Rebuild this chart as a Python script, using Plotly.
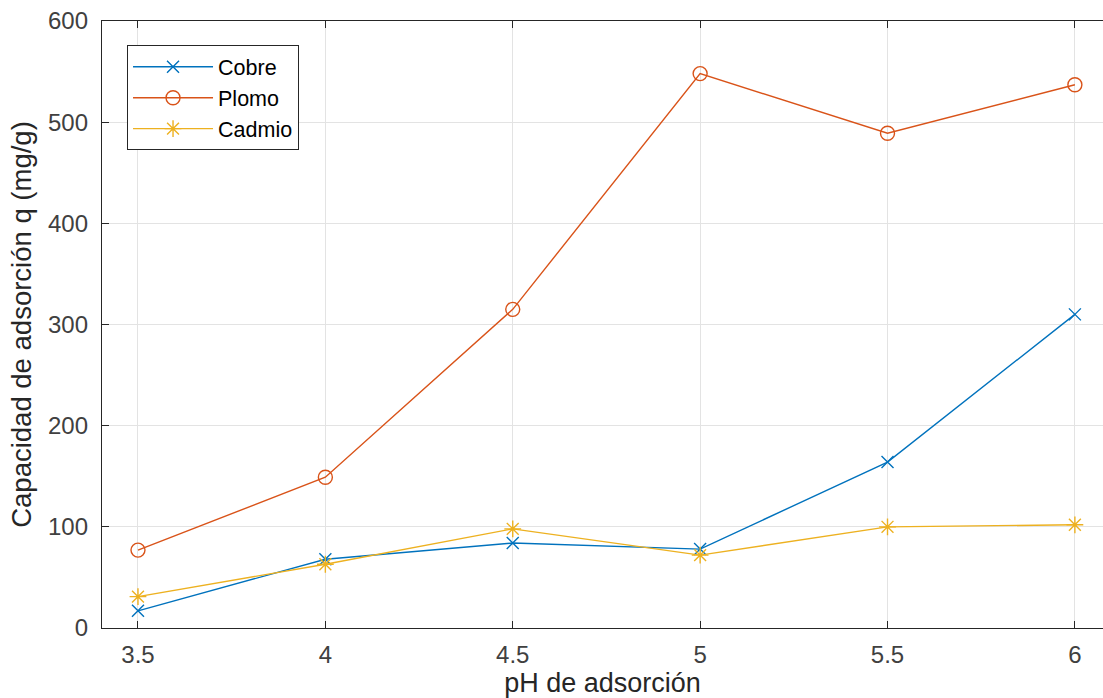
import plotly.graph_objects as go

ph = [3.5, 4, 4.5, 5, 5.5, 6]
cobre = [17, 68, 84, 78, 164, 310]
plomo = [77, 149, 315, 548, 489, 537]
cadmio = [31, 63, 98, 72, 100, 102]

x_ticks = [3.5, 4, 4.5, 5, 5.5, 6]
x_ticklabels = ["3.5", "4", "4.5", "5", "5.5", "6"]
y_ticks = [0, 100, 200, 300, 400, 500, 600]

fig = go.Figure()
series = [
    ("Cobre", cobre, "#0072BD", "x-thin-open", 12),
    ("Plomo", plomo, "#D95319", "circle-open", 14),
    ("Cadmio", cadmio, "#EDB120", "asterisk-open", 14),
]
for name, vals, col, sym, sz in series:
    fig.add_trace(go.Scatter(
        x=ph, y=vals, name=name, mode="lines+markers",
        line=dict(color=col, width=1.4),
        marker=dict(symbol=sym, size=sz, color=col, line=dict(color=col, width=1.4)),
    ))

font = "Liberation Sans, Arial, Helvetica, sans-serif"
fig.update_layout(
    width=1103, height=698,
    margin=dict(l=102, r=0, t=21, b=70),
    paper_bgcolor="white", plot_bgcolor="white",
    font=dict(family=font, size=24, color="#262626"),
    showlegend=True,
    legend=dict(
        x=0.025, y=0.96, xanchor="left", yanchor="top",
        bgcolor="white", bordercolor="#262626", borderwidth=1,
        font=dict(size=21.5, color="#000000"),
        itemwidth=80, tracegroupgap=0,
    ),
    xaxis=dict(
        range=[3.404, 6.075], tickvals=x_ticks, ticktext=x_ticklabels,
        showgrid=True, gridcolor="#e3e3e3", gridwidth=1,
        showline=True, linecolor="#262626", linewidth=1.4, mirror="ticks",
        ticks="inside", ticklen=7, tickcolor="#262626",
        zeroline=False, tickfont=dict(size=24, color="#404040"),
        ticklabelstandoff=5, automargin=False, ticklabeloverflow="allow",
        title=dict(text="pH de adsorción", font=dict(size=27, color="#262626"), standoff=6),
    ),
    yaxis=dict(
        range=[0, 600], tickvals=y_ticks,
        showgrid=True, gridcolor="#e3e3e3", gridwidth=1,
        showline=True, linecolor="#262626", linewidth=1.4, mirror=False,
        ticks="inside", ticklen=7, tickcolor="#262626",
        zeroline=False, tickfont=dict(size=24, color="#404040"),
        ticklabelstandoff=8, automargin=False, ticklabeloverflow="allow",
        title=dict(text="Capacidad de adsorción q (mg/g)", font=dict(size=27.5, color="#262626"), standoff=8),
    ),
)

fig.write_html(
    "out.html",
    config={"displayModeBar": False},
    post_script="document.body.style.margin='0';document.body.style.overflow='hidden';",
)
